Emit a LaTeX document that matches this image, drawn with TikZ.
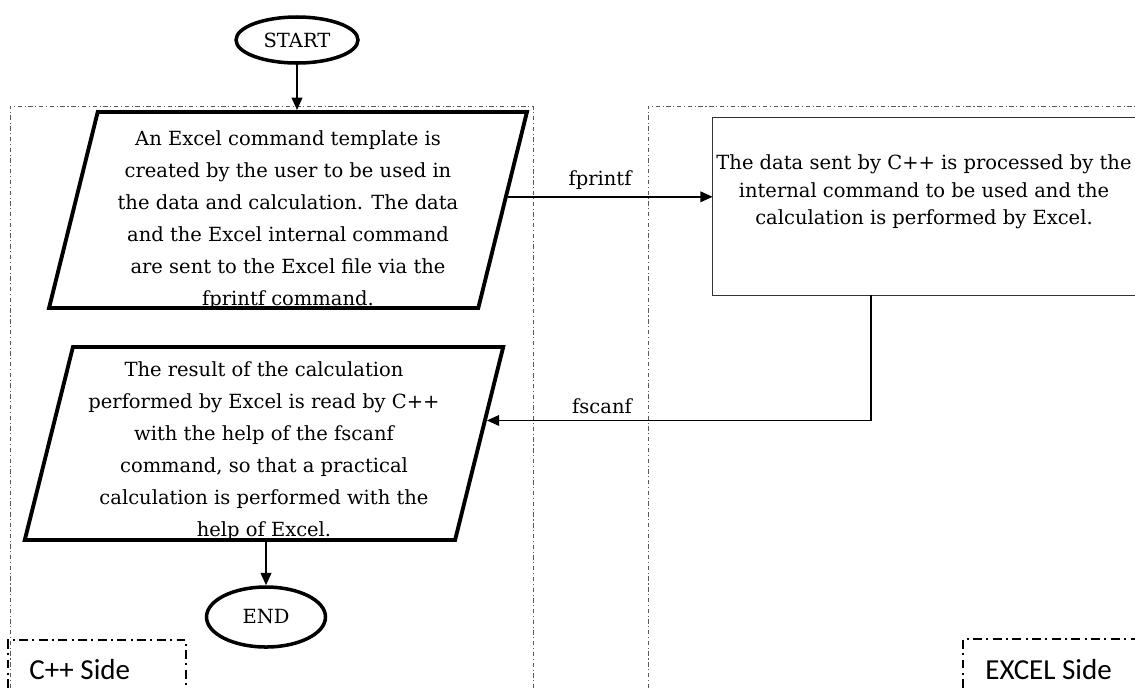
\documentclass[tikz,border=0pt]{standalone}
\usepackage{fontspec}
\setmainfont{DejaVu Serif}
\newfontfamily\labelfont{Carlito}
\usetikzlibrary{shapes.geometric,arrows.meta,positioning,calc}

\begin{document}
\begin{tikzpicture}[
  font=\fontsize{11.1}{13}\selectfont,
  lane/.style={black!65, line width=0.5pt, dash pattern=on 2.5pt off 1.5pt on 0.6pt off 1.5pt},
  sidebox/.style={black, line width=0.9pt, dash pattern=on 5pt off 2.5pt on 1.2pt off 2.5pt},
  sidelabel/.style={font=\labelfont\fontsize{16.5}{18}\selectfont, anchor=west, inner sep=0pt},
  terminal/.style={ellipse, draw, line width=2pt, inner sep=0pt},
  iobox/.style={trapezium, trapezium left angle=76, trapezium right angle=104,
    trapezium stretches=true, draw, line width=2.2pt, inner sep=2pt,
    text width=7.5cm, text depth=0pt, minimum width=9.6cm},
  iotext/.style={align=center, inner sep=0pt, font=\fontsize{11.1}{18.2}\selectfont},
  proctext/.style={align=center, inner sep=0pt, font=\fontsize{11.1}{15.6}\selectfont},
  flow/.style={line width=1.1pt, -{Triangle[length=7pt,width=6pt]}}
]
  \useasboundingbox (0,0) rectangle (22.7,-13.76);
  % lanes
  \draw[lane] (0.2,-13.76) |- (10.66,-2.12) -- (10.66,-13.76);
  \draw[lane] (12.96,-13.76) |- (22.7,-2.12);
  \draw[sidebox] (0.16,-13.76) |- (3.72,-12.8) -- (3.72,-13.76);
  \draw[sidebox] (19.26,-13.76) |- (22.7,-12.78);
  \node[sidelabel] (cppside) at (0.58,-13.4) {C++ Side};
  \node[sidelabel] (excelside) at (19.7,-13.4) {EXCEL Side};

  % C++ side
  \node[terminal, minimum width=2.44cm, minimum height=0.92cm] (start) at (5.94,-0.8) {START};
  \node[iobox, text height=3.78cm, minimum height=3.92cm] (send) at (5.76,-4.2) {};
  \node[iotext, yshift=-0.2cm] (sendtext) at (send) {An Excel command template is\\
    created by the user to be used in\\
    the data and calculation. The data\\
    and the Excel internal command\\
    are sent to the Excel file via the\\
    fprintf command.};
  \node[iobox, text height=3.72cm, minimum height=3.86cm] (recv) at (5.28,-8.87) {};
  \node[iotext, yshift=-0.15cm] (recvtext) at (recv) {The result of the calculation\\
    performed by Excel is read by C++\\
    with the help of the fscanf\\
    command, so that a practical\\
    calculation is performed with the\\
    help of Excel.};
  \node[terminal, minimum width=2.38cm, minimum height=1.2cm] (stop) at (5.32,-12.34) {END};

  % Excel side
  \node[minimum width=8.44cm, minimum height=3.54cm, inner sep=0pt] (proc) at (18.48,-4.13) {};
  \draw[black!80, line width=0.8pt] (proc.north east) -- (proc.north west) -- (proc.south west) -- (proc.south east);
  \node[proctext, below=0.74cm of proc.north] (proclabel) {The data sent by C++ is processed by the\\
    internal command to be used and the\\
    calculation is performed by Excel.};

  % connectors
  \coordinate (fpout) at ($(send.top right corner)!0.434!(send.bottom right corner)$);
  \coordinate (fsin) at ($(recv.top right corner)!0.383!(recv.bottom right corner)$);
  \draw[flow] (start.south) -- (start.south |- send.north);
  \draw[flow] (fpout) -- node[above, pos=0.45] (fplabel) {fprintf} (fpout -| proc.west);
  \draw[flow] ([xshift=3.16cm]proc.south west) |- node[above, pos=0.85] (fslabel) {fscanf} (fsin);
  \draw[flow] (recv.south -| stop.north) -- (stop.north);
\end{tikzpicture}
\end{document}
